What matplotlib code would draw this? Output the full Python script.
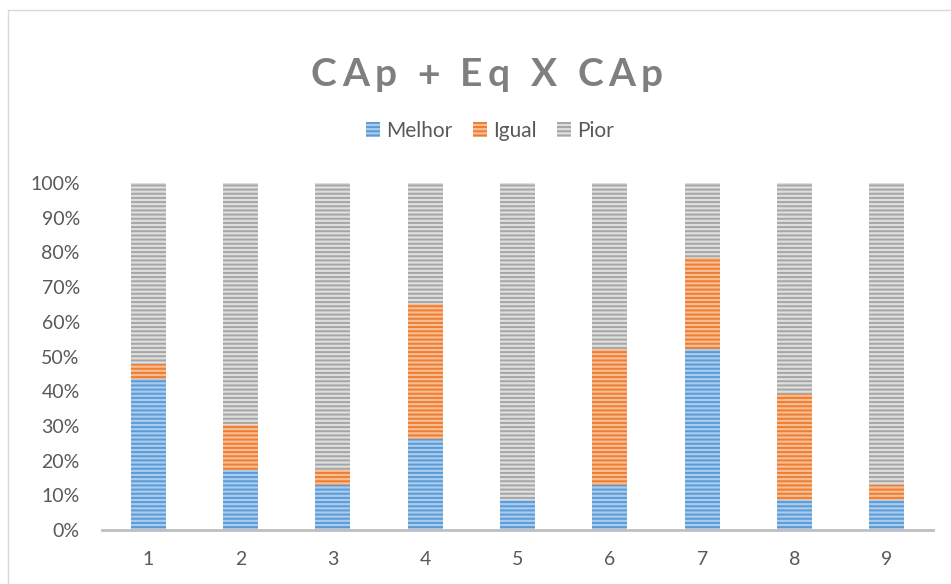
import matplotlib
matplotlib.use("Agg")
import matplotlib.pyplot as plt
from matplotlib.patches import Rectangle
from matplotlib.ticker import PercentFormatter

# Share of answers per question (percent of 23 respondents)
questions = ['1', '2', '3', '4', '5', '6', '7', '8', '9']
melhor = [43.5, 17.4, 13.0, 26.1, 8.7, 13.0, 52.2, 8.7, 8.7]
igual = [4.3, 13.0, 4.3, 39.1, 0.0, 39.1, 26.1, 30.4, 4.3]
pior = [52.2, 69.6, 82.6, 34.8, 91.3, 47.8, 21.7, 60.9, 87.0]

series = [
    ('Melhor', melhor, '#a9cbee', '#5b9bd5'),
    ('Igual', igual, '#f8bd93', '#ed7d31'),
    ('Pior', pior, '#dedede', '#a5a5a5'),
]

plt.rcParams['font.family'] = ['Lato', 'DejaVu Sans']
plt.rcParams['hatch.linewidth'] = 1.4

W, H = 951, 584
fig = plt.figure(figsize=(W / 100, H / 100), dpi=100)
ax = fig.add_axes([102 / W, 1 - 530 / H, (933 - 102) / W, (530 - 183) / H])

x = range(len(questions))
bottom = [0.0] * len(questions)
handles = []
for name, vals, light, dark in series:
    bars = ax.bar(x, vals, width=0.38, bottom=bottom, color=light,
                  edgecolor=dark, linewidth=0, hatch='----', label=name)
    handles.append(bars)
    bottom = [b + v for b, v in zip(bottom, vals)]

ax.set_xlim(-0.5, len(questions) - 0.5)
ax.set_ylim(0, 100)
ax.set_yticks(range(0, 101, 10))
ax.yaxis.set_major_formatter(PercentFormatter(decimals=0))
ax.set_xticks(list(x))
ax.set_xticklabels(questions)
ax.tick_params(axis='both', length=0, labelsize=14, labelcolor='#595959')
ax.tick_params(axis='y', pad=16)
ax.tick_params(axis='x', pad=15)
for side in ('left', 'right', 'top'):
    ax.spines[side].set_visible(False)
ax.spines['bottom'].set_color('#bfbfbf')
ax.spines['bottom'].set_linewidth(2)


def spaced_title(text, cx, cy, tracking, **kw):
    # draw the title one glyph at a time with extra letter spacing
    renderer = fig.canvas.get_renderer()
    widths = []
    for ch in text:
        t = fig.text(0, 0, ch.replace(' ', '\u00a0'), **kw)
        widths.append(t.get_window_extent(renderer).width)
        t.remove()
    total = sum(widths) + tracking * (len(text) - 1)
    px = cx - total / 2
    for ch, w in zip(text, widths):
        if ch != ' ':
            fig.text(px / W, cy, ch, ha='left', va='center', **kw)
        px += w + tracking


spaced_title('CAp + Eq X CAp', 487, 1 - 75 / H, 5.5,
             fontsize=28, fontweight='bold', color='#7f7f7f')

fig.legend(handles=handles, loc='center', bbox_to_anchor=(490 / W, 1 - 131 / H),
           ncol=3, frameon=False, fontsize=15, labelcolor='#595959',
           handlelength=0.65, handleheight=0.7, handletextpad=0.3,
           columnspacing=1.0)

# chart-area border
fig.patches.append(Rectangle((8 / W, -0.05), 1.0, 1 - 10 / H + 0.05,
                             transform=fig.transFigure, fill=False,
                             edgecolor='#d9d9d9', linewidth=1))

fig.savefig('out.png', dpi=100)
